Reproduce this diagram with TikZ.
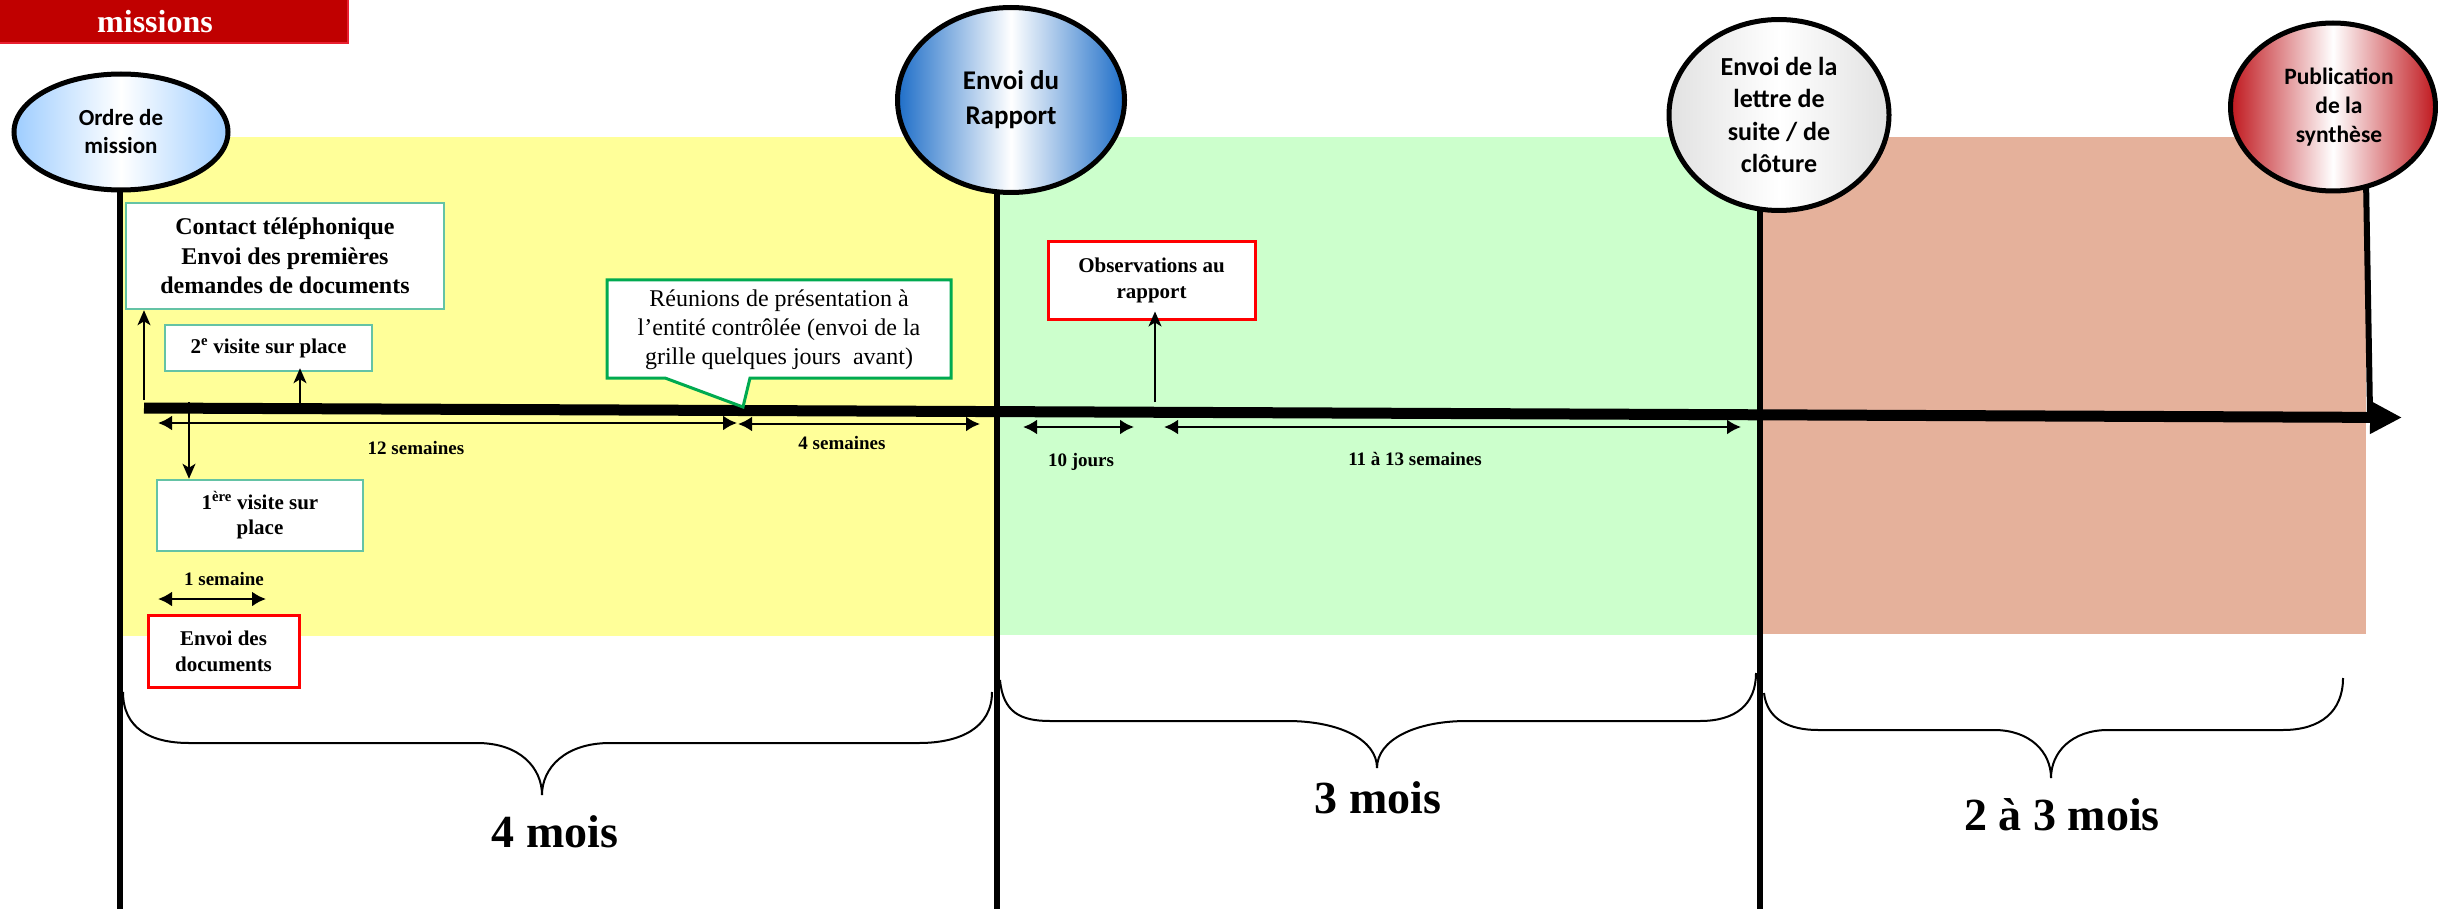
\documentclass[tikz,border=0pt]{standalone}
\usepackage{fontspec}
\setmainfont{Liberation Serif}
\newfontfamily\calfont{Carlito}
\usetikzlibrary{shapes.geometric,arrows.meta}
\definecolor{bannerred}{RGB}{192,0,0}
\definecolor{bannerborder}{RGB}{232,32,48}
\definecolor{zyellow}{RGB}{255,255,153}
\definecolor{zgreen}{RGB}{204,255,204}
\definecolor{zsalmon}{RGB}{229,177,155}
\definecolor{teal}{RGB}{100,195,165}
\definecolor{cgreen}{RGB}{0,170,80}
\definecolor{ordblue}{RGB}{158,205,255}
\definecolor{rapblue}{RGB}{30,110,200}
\definecolor{lettgray}{RGB}{225,225,225}
\definecolor{pubred}{RGB}{192,24,30}
\newcommand\myfs[2]{\fontsize{#1}{#2}\selectfont}
\begin{document}
\begin{tikzpicture}[x=1pt,y=-1pt,
  vline/.style={line width=6},
  bubble/.style={ellipse, draw, line width=5, inner sep=0, align=center},
  tbox/.style={draw=teal, line width=2.5, fill=white, align=center, inner sep=0, font=\myfs{21}{25.5}\bfseries},
  rbox/.style={draw=red, line width=3, fill=white, align=center, inner sep=0, font=\myfs{21}{26}\bfseries},
  conn/.style={line width=1.6, -{Stealth[length=15pt,width=13pt,inset=4pt]}},
  dim/.style={line width=2.5, {Latex[length=14pt,width=15pt]}-{Latex[length=14pt,width=15pt]}},
  dimlab/.style={font=\myfs{19}{22}\bfseries},
  brace/.style={line width=2},
  period/.style={font=\myfs{46}{50}\bfseries}]
\useasboundingbox (0,0) rectangle (2438,909);
% zones
\fill[zyellow] (120,137) rectangle (997,636);
\fill[zgreen] (997,137) rectangle (1760,635);
\fill[zsalmon] (1760,137) rectangle (2366,634);
% banner
\draw[fill=bannerred, draw=bannerborder, line width=1.5] (-2,-2) rectangle (348,43);
\node[anchor=base, text=white, font=\myfs{32}{36}\bfseries] (bantext) at (155,33) {missions};
% vertical lines
\draw[vline] (120,180) -- (120,909);
\draw[vline] (997,180) -- (997,909);
\draw[vline] (1760,200) -- (1760,909);
\draw[vline] (2366,180) -- (2370,413);
% bubbles
\node[bubble, minimum width=214, minimum height=116, left color=ordblue, right color=ordblue, middle color=white, font=\calfont\myfs{23}{28}\bfseries] (ordre) at (121,132) {Ordre de\\mission};
\node[bubble, minimum width=227, minimum height=185, left color=rapblue, right color=rapblue, middle color=white, font=\calfont\myfs{27}{35}\bfseries] (rapport) at (1011,100) {Envoi du\\Rapport};
\node[bubble, minimum width=220, minimum height=191, left color=lettgray, right color=lettgray, middle color=white, font=\calfont\myfs{26}{32.5}\bfseries] (lettre) at (1779,115) {Envoi de la\\lettre de\\suite / de\\clôture};
\node[bubble, minimum width=205, minimum height=168, left color=pubred, right color=pubred, middle color=white, font=\calfont\myfs{23.5}{29}\bfseries] (pub) at (2333,107) {\hspace*{12pt}Publication\\\hspace*{12pt}de la\\\hspace*{12pt}synthèse};
% braces
\draw[brace] (123,692) .. controls (123,728) and (150,743) .. (189,743) -- (477,743) .. controls (520,743) and (542,768) .. (542,795);
\draw[brace] (542,795) .. controls (542,768) and (565,743) .. (610,743) -- (919,743) .. controls (960,743) and (992,728) .. (992,692);
\draw[brace] (1000,680) .. controls (1003,712) and (1020,721) .. (1050,721) -- (1287,721) .. controls (1340,721) and (1377,740) .. (1377,768);
\draw[brace] (1377,768) .. controls (1377,740) and (1415,721) .. (1467,721) -- (1700,721) .. controls (1735,721) and (1756,705) .. (1756,673);
\draw[brace] (1764,693) .. controls (1767,720) and (1790,730) .. (1818,730) -- (1994,730) .. controls (2030,730) and (2051,752) .. (2051,778);
\draw[brace] (2051,778) .. controls (2051,752) and (2072,730) .. (2108,730) -- (2283,730) .. controls (2320,730) and (2343,712) .. (2343,678);
\node[period] (m4) at (555,832) {4 mois};
\node[period] (m3) at (1378,798) {3 mois};
\node[period] (m23) at (2062,815) {2 à 3 mois};
% timeline
\coordinate (tlstart) at (144,408);
\coordinate (tlend) at (2402,417.5);
\draw[line width=11, -{Triangle[length=32pt,width=31pt]}] (tlstart) -- (tlend);
% boxes
\node[tbox, minimum width=318, minimum height=106, font=\myfs{24}{29.5}\bfseries] (contact) at (285,256) {Contact téléphonique\\Envoi des premières\\demandes de documents};
\node[tbox, minimum width=207, minimum height=46] (visite2) at (268.5,348) {2\textsuperscript{e} visite sur place};
\node[tbox, minimum width=206, minimum height=71] (visite1) at (260,515.5) {1\textsuperscript{ère} visite sur\\place};
\node[rbox, minimum width=151, minimum height=72] (envoidocs) at (223.5,651) {Envoi des\\documents};
\node[rbox, minimum width=207, minimum height=77] (obs) at (1151.5,280.5) {Observations au\\rapport};
% callout
\draw[draw=cgreen, fill=white, line width=3] (607,280) -- (951,280) -- (951,378) -- (750,378) -- (743,407) -- (665,378) -- (607,378) -- cycle;
\node[align=center, inner sep=0, font=\myfs{24}{29}] (reunions) at (779,330) {Réunions de présentation à\\l’entité contrôlée (envoi de la\\grille quelques jours \ avant)};
% connectors
\coordinate (c1) at (144,400);
\coordinate (c2) at (300,404);
\coordinate (c3) at (189,402);
\coordinate (c4) at (1155,402);
\draw[conn] (c1) -- (c1 |- contact.south);
\draw[conn] (c2) -- ([yshift=4pt]c2 |- visite2.south);
\draw[conn] (c3) -- (c3 |- visite1.north);
\draw[conn] (c4) -- ([yshift=9pt]c4 |- obs.south);
% dimensions
\coordinate (d1a) at (158,423); \coordinate (d1b) at (737,423);
\coordinate (d2a) at (738,424); \coordinate (d2b) at (980,424);
\coordinate (d3a) at (1023,427); \coordinate (d3b) at (1134,427);
\coordinate (d4a) at (1164,427); \coordinate (d4b) at (1741,427);
\coordinate (d5a) at (158,599); \coordinate (d5b) at (266,599);
\draw[dim] (d1a) -- (d1b);
\draw[dim] (d2a) -- (d2b);
\draw[dim] (d3a) -- (d3b);
\draw[dim] (d4a) -- (d4b);
\draw[dim] (d5a) -- (d5b);
\node[dimlab] (l12) at (416,448) {12 semaines};
\node[dimlab] (l4) at (842,443) {4 semaines};
\node[dimlab] (l10) at (1081,462) {10 jours};
\node[dimlab] (l11) at (1415,459) {11 à 13 semaines};
\node[dimlab] (l1) at (224,579) {1 semaine};
\end{tikzpicture}
\end{document}
